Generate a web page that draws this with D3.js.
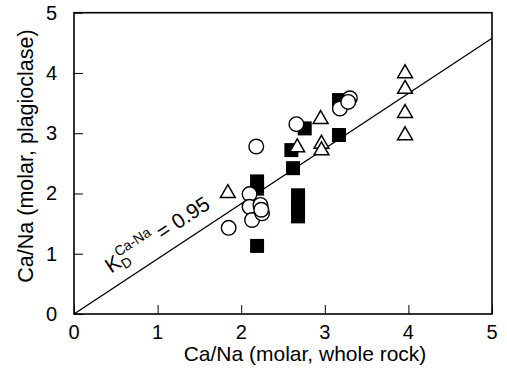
<!DOCTYPE html>
<html><head><meta charset="utf-8">
<script src="https://cdn.jsdelivr.net/npm/d3@7"></script>
<style>body{margin:0;background:#fff}svg{display:block}text{font-family:"Liberation Sans",Arial,sans-serif;fill:#000}</style>
</head><body><svg id="c" width="507" height="384"></svg>
<script>
const ticks = [0,1,2,3,4,5];
const xTitle = "Ca/Na (molar, whole rock)";
const yTitle = "Ca/Na (molar, plagioclase)";
const slope = 0.915;
const squares = [[2.19,2.20],[2.19,2.08],[2.19,1.13],[2.68,1.97],[2.68,1.85],[2.68,1.73],[2.68,1.62],[2.62,2.42],[2.60,2.72],[2.76,3.08],[3.17,2.97],[3.17,3.55]];
const triangles = [[1.84,2.02],[2.67,2.78],[2.95,3.25],[2.96,2.84],[2.96,2.73],[3.96,4.01],[3.96,3.75],[3.96,3.35],[3.96,2.98]];
const circles = [[1.85,1.43],[2.10,1.99],[2.10,1.78],[2.13,1.56],[2.23,1.81],[2.25,1.67],[2.24,1.73],[2.18,2.78],[2.66,3.15],[3.18,3.41],[3.30,3.58],[3.28,3.52]];

const svg = d3.select("#c");
const L=74,R=492,T=12.7,B=314;
const x = d3.scaleLinear().domain([0,5]).range([L,R]);
const y = d3.scaleLinear().domain([0,5]).range([B,T]);
const fs = 20;

svg.append("g").attr("transform",`translate(0,${B})`)
  .call(d3.axisBottom(x).tickValues(ticks).tickSize(-9).tickFormat(""))
  .call(g=>{g.select(".domain").remove();g.selectAll("line").attr("stroke","#000").attr("stroke-width",1);});
svg.append("g").attr("transform",`translate(${L},0)`)
  .call(d3.axisLeft(y).tickValues(ticks).tickSize(-9).tickFormat(""))
  .call(g=>{g.select(".domain").remove();g.selectAll("line").attr("stroke","#000").attr("stroke-width",1);});
svg.selectAll(".xl").data(ticks).enter().append("text")
  .attr("x",d=>x(d)).attr("y",339).attr("text-anchor","middle").attr("font-size",fs).text(d=>d);
svg.selectAll(".yl").data(ticks).enter().append("text")
  .attr("x",57).attr("y",d=>y(d)+7).attr("text-anchor","end").attr("font-size",fs).text(d=>d);
svg.append("text").attr("x",305).attr("y",361).attr("text-anchor","middle").attr("font-size",21).text(xTitle);
svg.append("text").attr("transform","translate(33,156) rotate(-90)").attr("text-anchor","middle").attr("font-size",21.5).text(yTitle);

svg.append("clipPath").attr("id","cl").append("rect").attr("x",L).attr("y",T).attr("width",R-L).attr("height",B-T);
svg.append("line").attr("clip-path","url(#cl)")
  .attr("x1",x(0)).attr("y1",y(0)).attr("x2",x(5)).attr("y2",y(5*slope))
  .attr("stroke","#000").attr("stroke-width",1.3);

const ang = Math.atan2(y(slope)-y(0), x(1)-x(0))*180/Math.PI;
const lx = x(0.45), ly = y(0.45*slope);
const rad = ang*Math.PI/180;
const ox = lx + 8*Math.cos(rad) + 13.2*Math.sin(rad);
const oy = ly + 8*Math.sin(rad) - 13.2*Math.cos(rad);
const t = svg.append("text").attr("transform",`translate(${ox},${oy}) rotate(${ang})`).attr("font-size",21);
t.append("tspan").text("K");
t.append("tspan").attr("font-size",14).attr("dy",4).text("D");
t.append("tspan").attr("font-size",14).attr("dx",-9).attr("dy",-14).text("Ca-Na");
t.append("tspan").attr("dy",10).attr("font-size",21).text(" = 0.95");

const sq=14;
svg.selectAll(".sq").data(squares).enter().append("rect")
  .attr("x",d=>x(d[0])-sq/2).attr("y",d=>y(d[1])-sq/2).attr("width",sq).attr("height",sq).attr("fill","#000");
const triPath = d3.symbol().type(d3.symbolTriangle).size(95);
svg.selectAll(".tr").data(triangles).enter().append("path")
  .attr("d",triPath).attr("transform",d=>`translate(${x(d[0])},${y(d[1])+1})`)
  .attr("fill","#fff").attr("stroke","#000").attr("stroke-width",1.5);
svg.selectAll(".ci").data(circles).enter().append("circle")
  .attr("cx",d=>x(d[0])).attr("cy",d=>y(d[1])).attr("r",7.3)
  .attr("fill","#fff").attr("stroke","#000").attr("stroke-width",1.4);

svg.append("rect").attr("x",L).attr("y",T).attr("width",R-L).attr("height",B-T)
  .attr("fill","none").attr("stroke","#000").attr("stroke-width",1.6);
</script></body></html>
